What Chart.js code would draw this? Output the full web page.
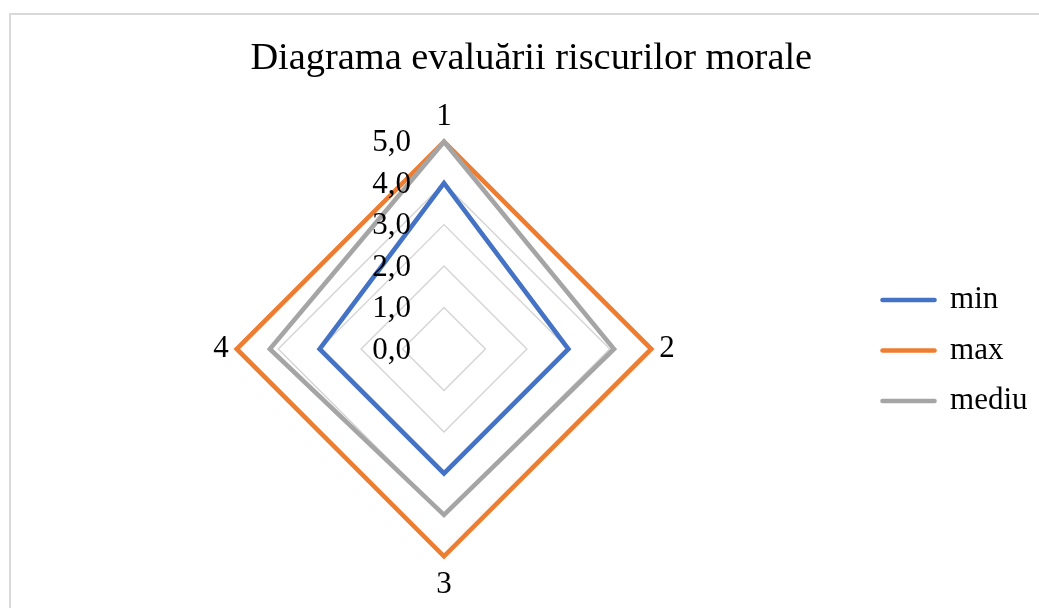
<!DOCTYPE html>
<html lang="ro">
<head>
<meta charset="UTF-8">
<title>Diagrama evaluării riscurilor morale</title>
<script src="https://cdn.jsdelivr.net/npm/chart.js"></script>
<style>
  html, body { margin: 0; padding: 0; background: #fff; overflow: hidden; }
  body { width: 1039px; height: 608px; position: relative; }
  .frame {
    position: absolute; left: 9px; top: 13px;
    width: 1100px; height: 700px;
    border: 2px solid #d9d9d9; box-sizing: border-box;
  }
  .chart-box { position: absolute; left: 11px; top: 15px; width: 1038px; height: 593px; }
</style>
</head>
<body>
<div class="frame"></div>
<div class="chart-box">
  <canvas id="riskChart"></canvas>
</div>
<script>
  const categories = ['1', '2', '3', '4'];
  const seriesNames = ['min', 'max', 'mediu'];
  const minValues = [4, 3, 3, 3];
  const maxValues = [5, 5, 5, 5];
  const mediuValues = [5, 4.1, 4, 4.2];
  const tickLabels = ['0,0', '1,0', '2,0', '3,0', '4,0', '5,0'];

  const serif = '"Liberation Serif", "Times New Roman", serif';

  // tick labels sit left of the vertical axis, like in Excel
  const tickLabelPlugin = {
    id: 'tickLabels',
    afterDraw(chart) {
      const r = chart.scales.r;
      const ctx = chart.ctx;
      ctx.save();
      ctx.font = '31px ' + serif;
      ctx.fillStyle = '#000';
      ctx.textAlign = 'right';
      ctx.textBaseline = 'middle';
      r.ticks.forEach((t, i) => {
        const y = r.yCenter - r.getDistanceFromCenterForValue(t.value);
        ctx.fillText(tickLabels[i], r.xCenter - 33, y + 1.5);
      });
      ctx.restore();
    }
  };

  new Chart(document.getElementById('riskChart'), {
    type: 'radar',
    data: {
      labels: categories,
      datasets: [
        { label: seriesNames[0], data: minValues, borderColor: '#4472C4', backgroundColor: '#4472C4', order: 1 },
        { label: seriesNames[1], data: maxValues, borderColor: '#ED7D31', backgroundColor: '#ED7D31', order: 2 },
        { label: seriesNames[2], data: mediuValues, borderColor: '#A5A5A5', backgroundColor: '#A5A5A5', order: 0 }
      ]
    },
    options: {
      responsive: true,
      maintainAspectRatio: false,
      animation: false,
      layout: { padding: { left: 14, right: 11.5, top: 0, bottom: 4 } },
      elements: {
        line: { borderWidth: 4.6, tension: 0, fill: false, borderJoinStyle: 'miter', borderCapStyle: 'round' },
        point: { radius: 0, hoverRadius: 0 }
      },
      scales: {
        r: {
          min: 0,
          max: 5,
          ticks: { stepSize: 1, display: false },
          grid: { color: '#d4d4d4', lineWidth: 1.4 },
          angleLines: { display: false },
          pointLabels: {
            font: { family: serif, size: 31 },
            color: '#000',
            padding: (c) => [6.5, 8, 9.5, 8][c.index]
          }
        }
      },
      plugins: {
        title: {
          display: true,
          text: 'Diagrama evaluării riscurilor morale',
          font: { family: serif, size: 38.4, weight: 'normal' },
          color: '#000',
          padding: { top: 21, bottom: 15.9 }
        },
        legend: {
          position: 'right',
          title: { display: true, text: ' ', font: { size: 12 }, padding: { top: 0, bottom: 67.6 } },
          labels: {
            usePointStyle: true,
            pointStyle: 'line',
            pointStyleWidth: 52,
            font: { family: serif, size: 31 },
            color: '#000',
            padding: 19.5,
            sort: (a, b) => a.datasetIndex - b.datasetIndex,
            generateLabels: (chart) =>
              Chart.defaults.plugins.legend.labels.generateLabels(chart).map((item) => {
                const ds = chart.data.datasets[item.datasetIndex];
                return Object.assign(item, {
                  strokeStyle: ds.borderColor,
                  fillStyle: ds.borderColor,
                  lineWidth: 4.6,
                  lineCap: 'round'
                });
              })
          }
        },
        tooltip: { enabled: false }
      }
    },
    plugins: [tickLabelPlugin]
  });
</script>
</body>
</html>
